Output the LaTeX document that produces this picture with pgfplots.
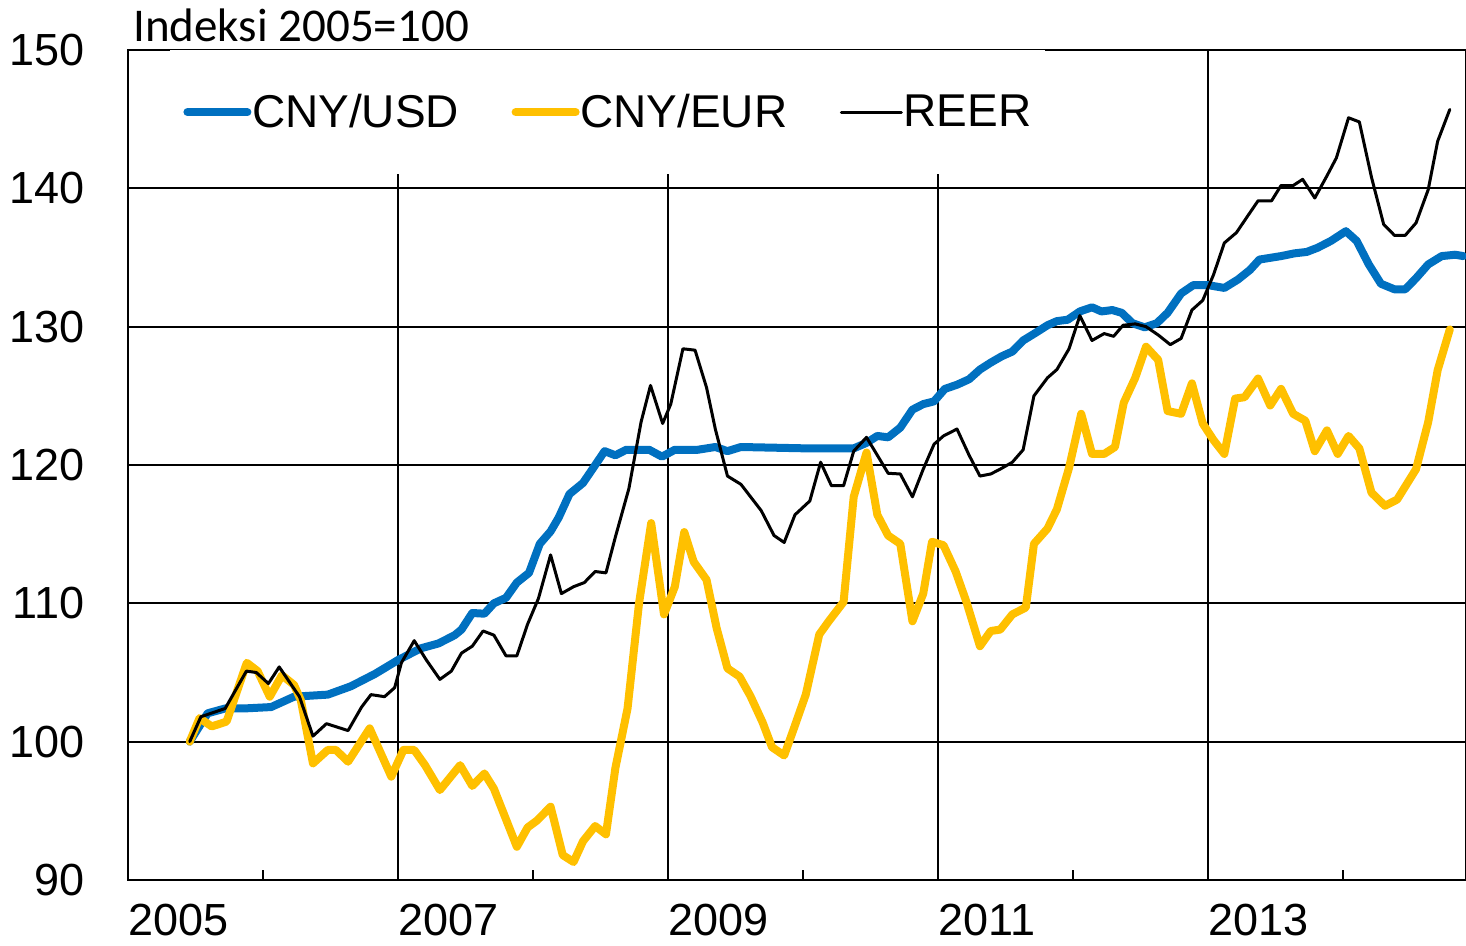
\documentclass[border=0pt]{standalone}
\usepackage{pgfplots}
\pgfplotsset{compat=1.18}
\usepackage{fontspec}
\setmainfont{Liberation Sans}
\newfontfamily\calibri{Carlito}
\definecolor{cnyusd}{RGB}{0,112,192}
\definecolor{cnyeur}{RGB}{255,192,0}

\pgfplotstableread{
x y
2005.457 100.0
2005.59 102.05
2005.72 102.4
2005.86 102.4
2006.06 102.5
2006.23 103.25
2006.48 103.4
2006.65 104.0
2006.83 104.9
2007.00 105.9
2007.17 106.75
2007.30 107.1
2007.42 107.7
2007.47 108.1
2007.55 109.3
2007.64 109.25
2007.71 110.0
2007.80 110.4
2007.88 111.5
2007.97 112.2
2008.05 114.3
2008.13 115.2
2008.19 116.2
2008.27 117.9
2008.37 118.7
2008.44 119.7
2008.53 121.0
2008.61 120.7
2008.69 121.1
2008.86 121.1
2008.955 120.6
2009.05 121.1
2009.22 121.1
2009.35 121.3
2009.44 121.0
2009.54 121.3
2010.03 121.2
2010.375 121.2
2010.47 121.6
2010.55 122.1
2010.63 122.0
2010.72 122.7
2010.81 124.0
2010.89 124.4
2010.97 124.6
2011.05 125.5
2011.14 125.8
2011.23 126.2
2011.31 126.9
2011.39 127.4
2011.47 127.85
2011.55 128.2
2011.63 129.0
2011.73 129.6
2011.81 130.1
2011.88 130.4
2011.96 130.5
2012.05 131.1
2012.14 131.4
2012.21 131.1
2012.29 131.2
2012.36 131.0
2012.44 130.25
2012.53 129.95
2012.62 130.25
2012.70 131.0
2012.80 132.4
2012.89 133.0
2013.00 133.0
2013.12 132.8
2013.22 133.4
2013.31 134.1
2013.38 134.85
2013.54 135.1
2013.64 135.3
2013.73 135.4
2013.81 135.7
2013.91 136.2
2014.02 136.9
2014.10 136.2
2014.19 134.5
2014.28 133.1
2014.38 132.7
2014.46 132.7
2014.54 133.5
2014.63 134.5
2014.73 135.1
2014.83 135.2
2014.89 135.1
}\usd

\pgfplotstableread{
x y
2005.457 100.0
2005.53 101.7
2005.62 101.1
2005.73 101.45
2005.88 105.7
2005.96 105.1
2006.05 103.25
2006.14 104.8
2006.23 104.1
2006.28 103.0
2006.37 98.43
2006.48 99.4
2006.54 99.4
2006.63 98.55
2006.79 100.96
2006.95 97.47
2007.04 99.4
2007.12 99.4
2007.20 98.3
2007.31 96.5
2007.46 98.3
2007.55 96.8
2007.64 97.7
2007.71 96.6
2007.88 92.4
2007.96 93.8
2008.03 94.3
2008.13 95.3
2008.22 91.8
2008.30 91.3
2008.37 92.8
2008.46 93.9
2008.54 93.3
2008.61 98.1
2008.70 102.4
2008.785 110.0
2008.875 115.8
2008.97 109.2
2009.05 111.2
2009.12 115.15
2009.19 113.0
2009.285 111.7
2009.36 108.2
2009.44 105.3
2009.53 104.7
2009.61 103.3
2009.70 101.4
2009.77 99.6
2009.86 99.0
2009.93 100.9
2010.02 103.4
2010.12 107.75
2010.19 108.7
2010.30 110.1
2010.375 117.7
2010.47 120.9
2010.55 116.4
2010.63 114.9
2010.72 114.3
2010.81 108.7
2010.89 110.7
2010.955 114.45
2011.04 114.2
2011.13 112.3
2011.21 110.1
2011.31 106.9
2011.39 108.0
2011.46 108.1
2011.55 109.2
2011.65 109.7
2011.71 114.3
2011.81 115.4
2011.88 116.8
2011.97 119.8
2012.06 123.7
2012.14 120.8
2012.23 120.8
2012.31 121.3
2012.375 124.5
2012.46 126.3
2012.54 128.55
2012.63 127.6
2012.70 123.9
2012.80 123.7
2012.88 125.9
2012.96 123.0
2013.04 121.8
2013.12 120.8
2013.20 124.8
2013.27 124.9
2013.37 126.25
2013.46 124.3
2013.54 125.5
2013.63 123.7
2013.72 123.2
2013.79 121.0
2013.88 122.5
2013.96 120.8
2014.04 122.1
2014.12 121.2
2014.21 118.0
2014.31 117.05
2014.40 117.5
2014.54 119.7
2014.63 123.1
2014.70 126.85
2014.79 129.8
}\eur

\pgfplotstableread{
x y
2005.457 100.0
2005.54 101.8
2005.72 102.4
2005.877 105.1
2005.95 105.0
2006.04 104.2
2006.12 105.4
2006.27 103.25
2006.37 100.4
2006.47 101.3
2006.63 100.8
2006.73 102.5
2006.80 103.4
2006.90 103.25
2006.975 103.9
2007.025 105.7
2007.12 107.3
2007.21 105.9
2007.31 104.5
2007.395 105.1
2007.47 106.4
2007.55 106.9
2007.63 108.0
2007.71 107.7
2007.80 106.2
2007.88 106.2
2007.96 108.5
2008.04 110.35
2008.13 113.5
2008.21 110.7
2008.30 111.2
2008.38 111.5
2008.46 112.3
2008.54 112.2
2008.61 114.8
2008.71 118.3
2008.80 123.1
2008.87 125.75
2008.96 123.0
2009.02 124.4
2009.11 128.4
2009.20 128.3
2009.285 125.6
2009.35 122.6
2009.44 119.2
2009.54 118.6
2009.69 116.7
2009.785 114.9
2009.86 114.4
2009.94 116.4
2010.05 117.4
2010.13 120.2
2010.21 118.5
2010.30 118.5
2010.375 121.0
2010.47 122.0
2010.55 120.7
2010.63 119.4
2010.72 119.35
2010.81 117.7
2010.89 119.7
2010.97 121.5
2011.04 122.1
2011.14 122.6
2011.23 120.7
2011.31 119.2
2011.39 119.35
2011.46 119.7
2011.55 120.2
2011.63 121.1
2011.71 125.0
2011.81 126.3
2011.88 126.9
2011.97 128.4
2012.05 130.8
2012.14 129.0
2012.23 129.5
2012.30 129.3
2012.37 130.1
2012.46 130.2
2012.54 130.0
2012.63 129.4
2012.72 128.7
2012.80 129.15
2012.88 131.2
2012.96 131.9
2013.04 133.75
2013.12 136.05
2013.21 136.8
2013.30 138.1
2013.37 139.1
2013.47 139.1
2013.54 140.2
2013.63 140.2
2013.70 140.65
2013.79 139.3
2013.88 140.9
2013.95 142.2
2014.04 145.1
2014.12 144.8
2014.21 140.8
2014.30 137.4
2014.38 136.6
2014.46 136.6
2014.54 137.5
2014.63 139.9
2014.70 143.4
2014.79 145.7
}\reer

\begin{document}
\begin{tikzpicture}
\begin{axis}[
  scale only axis,
  width=669pt, height=415pt,
  xmin=2005, xmax=2014.91,
  ymin=90, ymax=150,
  axis line style={line width=1pt},
  xtick={2005,2007,2009,2011,2013},
  xticklabels={2005,2007,2009,2011,2013},
  minor xtick={2006,2008,2010,2012,2014},
  xtick pos=lower,
  ytick={90,100,...,150},
  ytick style={draw=none},
  xtick style={black, line width=1pt},
  minor tick length=5pt,
  major tick length=5pt,
  xmajorgrids=true, ymajorgrids=true,
  major grid style={black, line width=1pt},
  /pgf/number format/assume math mode=true,
  tick label style={font=\fontsize{22.5}{26}\selectfont},
  xticklabel style={anchor=north west, inner sep=0pt, yshift=-12pt},
  yticklabel style={anchor=east, inner sep=0pt, xshift=-21.5pt},
  legend columns=-1,
  legend cell align=left,
  legend image code/.code={\draw[#1, line cap=round] (0pt,0pt) -- (30pt,0pt);},
  legend style={at={(0.0314,1)}, anchor=north west, fill=white, draw=none,
    inner xsep=6.5pt, inner ysep=21.5pt,
    font=\fontsize{23}{27}\selectfont,
    nodes={inner sep=0.3pt},
    /tikz/every even column/.append style={column sep=26pt}},
  every axis plot/.append style={line join=round, line cap=round},
]
\addplot[cnyusd, line width=4pt] table[x=x,y=y] {\usd};
\addlegendentry{CNY/USD}
\addplot[cnyeur, line width=4pt] table[x=x,y=y] {\eur};
\addlegendentry{CNY/EUR}
\addplot[black, line width=1.5pt] table[x=x,y=y] {\reer};
\addlegendentry{REER}
\coordinate (SW) at (rel axis cs:0,0);
\coordinate (NE) at (rel axis cs:1,1);
\coordinate (TL) at (rel axis cs:0,1);
\end{axis}
\node[anchor=base west, inner sep=0pt, font=\calibri\fontsize{23.5}{27}\selectfont] at ([xshift=2.5pt, yshift=4pt]TL) {Indeksi 2005=100};
\pgfresetboundingbox
\path[use as bounding box] ([xshift=-64pt,yshift=-33pt]SW) rectangle ([yshift=25pt]NE);
\end{tikzpicture}
\end{document}
